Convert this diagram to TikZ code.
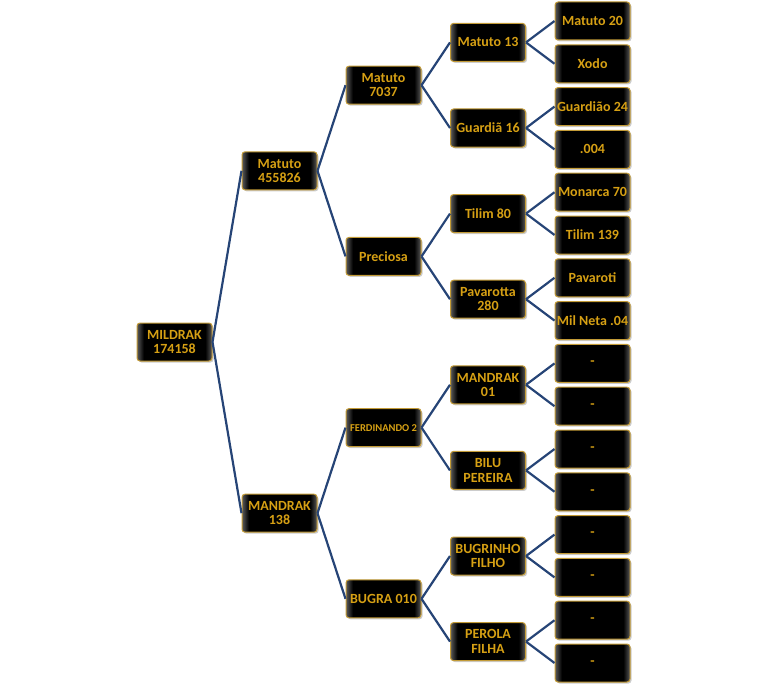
\documentclass[tikz,border=0pt]{standalone}
\usepackage{fontspec}
\setmainfont{Carlito}
\usetikzlibrary{shadows}
\definecolor{gold}{RGB}{214,160,20}
\definecolor{edgegold}{RGB}{195,155,55}
\definecolor{link}{RGB}{38,68,118}
\pgfdeclarehorizontalshading{bevel}{100bp}{color(0bp)=(black!65); color(25bp)=(black!65); color(29.5bp)=(black); color(70.5bp)=(black); color(75bp)=(black!65); color(100bp)=(black!65)}
\tikzset{
  box/.style={rounded corners=3pt, draw=edgegold, line width=1pt, shade, shading=bevel,
    minimum width=75pt, minimum height=38pt, inner sep=1pt,
    font=\bfseries\fontsize{14}{14.5}\selectfont, text=gold, align=center,
    drop shadow={shadow xshift=1.5pt, shadow yshift=-1.5pt, opacity=0.4}},
  small/.style={font=\bfseries\fontsize{10.5}{12}\selectfont},
  conn/.style={draw=link, line width=2.2pt}
}
\begin{document}
\begin{tikzpicture}[x=1pt,y=-1pt]
\useasboundingbox (0,0) rectangle (768,690);
% root
\node[box] (r) at (174.5,342) {MILDRAK\\174158};
% level 1
\node[box] (a) at (279.5,170.8) {Matuto\\455826};
\node[box] (b) at (279.5,513.2) {MANDRAK\\138};
% level 2
\node[box] (aa) at (383.5,85.2) {Matuto\\7037};
\node[box] (ab) at (383.5,256.4) {Preciosa};
\node[box,small] (ba) at (383.5,427.6) {FERDINANDO 2};
\node[box] (bb) at (383.5,598.8) {BUGRA 010};
% level 3
\node[box] (aaa) at (488,42.4) {Matuto 13};
\node[box] (aab) at (488,128) {Guardiã 16};
\node[box] (aba) at (488,213.6) {Tilim 80};
\node[box] (abb) at (488,299.2) {Pavarotta\\280};
\node[box] (baa) at (488,384.8) {MANDRAK\\01};
\node[box] (bab) at (488,470.4) {BILU\\PEREIRA};
\node[box] (bba) at (488,556) {BUGRINHO\\FILHO};
\node[box] (bbb) at (488,641.6) {PEROLA\\FILHA};
% level 4
\node[box] (aaaa) at (592.5,21) {Matuto 20};
\node[box] (aaab) at (592.5,63.8) {Xodo};
\node[box] (aaba) at (592.5,106.6) {Guardião 24};
\node[box] (aabb) at (592.5,149.4) {.004};
\node[box] (abaa) at (592.5,192.2) {Monarca 70};
\node[box] (abab) at (592.5,235) {Tilim 139};
\node[box] (abba) at (592.5,277.8) {Pavaroti};
\node[box] (abbb) at (592.5,320.6) {Mil Neta .04};
\node[box] (baaa) at (592.5,363.4) {-};
\node[box] (baab) at (592.5,406.2) {-};
\node[box] (baba) at (592.5,449) {-};
\node[box] (babb) at (592.5,491.8) {-};
\node[box] (bbaa) at (592.5,534.6) {-};
\node[box] (bbab) at (592.5,577.4) {-};
\node[box] (bbba) at (592.5,620.2) {-};
\node[box] (bbbb) at (592.5,663) {-};
% connectors
\foreach \p/\c in {r/a, r/b, a/aa, a/ab, b/ba, b/bb,
  aa/aaa, aa/aab, ab/aba, ab/abb, ba/baa, ba/bab, bb/bba, bb/bbb,
  aaa/aaaa, aaa/aaab, aab/aaba, aab/aabb, aba/abaa, aba/abab, abb/abba, abb/abbb,
  baa/baaa, baa/baab, bab/baba, bab/babb, bba/bbaa, bba/bbab, bbb/bbba, bbb/bbbb}
  \draw[conn] (\p.east) -- (\c.west);
\end{tikzpicture}
\end{document}
